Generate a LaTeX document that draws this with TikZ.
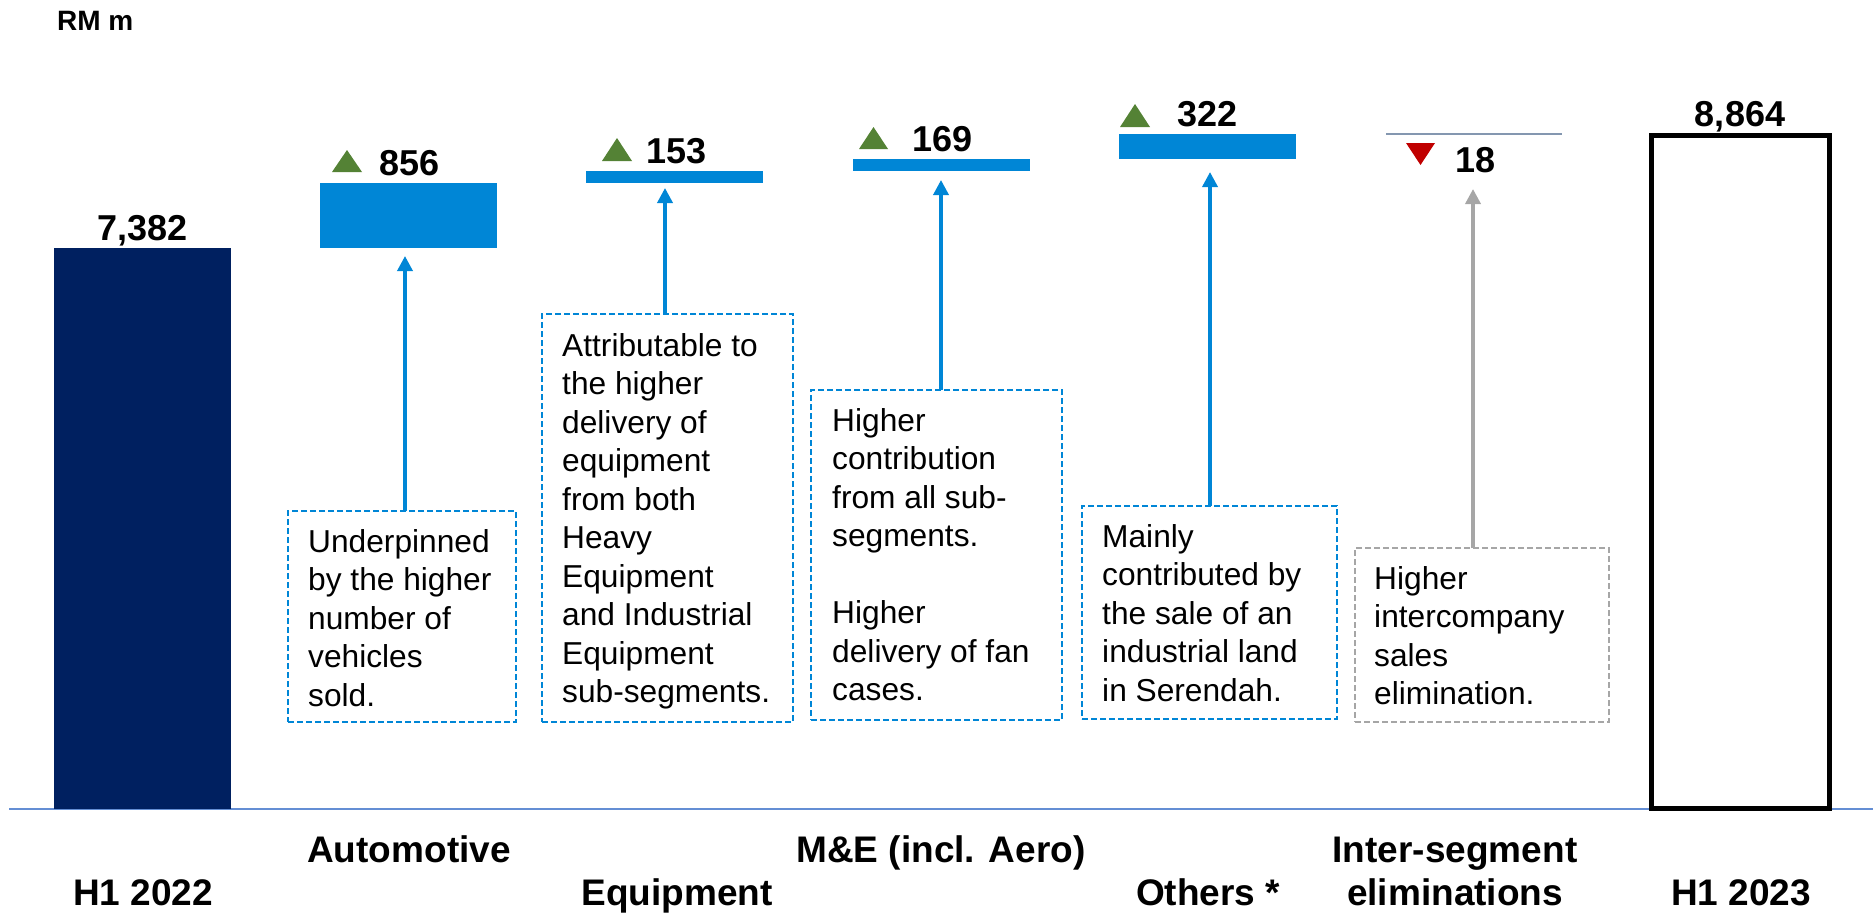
\documentclass[tikz,border=0pt]{standalone}
\usepackage{fontspec}
\setmainfont{Liberation Sans}
\usetikzlibrary{arrows.meta}
\definecolor{navy}{RGB}{0,32,96}
\definecolor{barblue}{RGB}{0,134,214}
\definecolor{upgreen}{RGB}{84,130,53}
\definecolor{downred}{RGB}{192,0,0}
\definecolor{boxgray}{RGB}{166,166,166}
\definecolor{linegray}{RGB}{132,151,176}
\definecolor{axisblue}{RGB}{100,142,212}
\begin{document}
\begin{tikzpicture}[x=1pt,y=-1pt,
  bar/.style={inner sep=0pt, outer sep=0pt, anchor=north west, draw=none},
  numlab/.style={font=\fontsize{36}{40}\selectfont\bfseries, inner sep=0pt},
  catlab/.style={font=\fontsize{37}{43}\selectfont\bfseries, inner sep=0pt, anchor=base},
  notebox/.style={draw=barblue, dash pattern=on 6pt off 3pt, line width=1.8pt, inner sep=0pt, outer sep=0pt, anchor=north west},
  graybox/.style={notebox, draw=boxgray},
  notetext/.style={font=\fontsize{31.7}{38.5}\selectfont, inner sep=0pt, anchor=north west, align=left},
  uparrow/.style={draw=barblue, line width=3.5pt, -{Triangle[width=15pt,length=15pt]}},
  grayarrow/.style={uparrow, draw=boxgray}
]
\useasboundingbox (0,0) rectangle (1873,913);

% axis
\draw[axisblue, line width=2pt] (9,809) -- (1873,809);

% title
\node[font=\fontsize{28}{32}\selectfont\bfseries, inner sep=0pt, anchor=base west] (unit) at (57,30) {RM m};

% bars
\node[bar, fill=navy, minimum width=177, minimum height=561] (h22) at (54,248) {};
\node[bar, fill=barblue, minimum width=177, minimum height=65] (abar) at (320,183) {};
\node[bar, fill=barblue, minimum width=177, minimum height=11.6] (ebar) at (586,171.4) {};
\node[bar, fill=barblue, minimum width=177, minimum height=12.8] (mbar) at (853,158.6) {};
\node[bar, fill=barblue, minimum width=177, minimum height=24.5] (obar) at (1119,134.1) {};
\node[bar, fill=linegray, minimum width=176, minimum height=1.8] (ibar) at (1386,133.2) {};
\node[bar, draw=black, fill=white, line width=5pt, minimum width=178, minimum height=672.5] (h23) at (1651.5,135.5) {};

% value labels
\node[numlab, anchor=base] (v22) at (142.5,240) {7,382};
\node[numlab, anchor=base] (v23) at (1740,126) {8,864};
\node[numlab, anchor=base west] (va) at (379,175) {856};
\node[numlab, anchor=base west] (ve) at (646,163) {153};
\node[numlab, anchor=base west] (vm) at (912,151) {169};
\node[numlab, anchor=base west] (vo) at (1177,126) {322};
\node[numlab, anchor=base west] (vi) at (1455,172) {18};

% triangles
\fill[upgreen] (332,172) -- (362,172) -- (347,150) -- cycle;
\fill[upgreen] (602,161) -- (632,161) -- (617,138) -- cycle;
\fill[upgreen] (859,149) -- (888,149) -- (873.5,127) -- cycle;
\fill[upgreen] (1120,127) -- (1150,127) -- (1135,104) -- cycle;
\fill[downred] (1406,143) -- (1435,143) -- (1420.5,165) -- cycle;

% note boxes
\node[notebox, minimum width=228, minimum height=211] (abox) at (288,511) {};
\node[notetext] (atext) at (308,529.2) {Underpinned\\by the higher\\number of\\vehicles\\sold.};

\node[notebox, minimum width=251, minimum height=408] (ebox) at (542,314) {};
\node[notetext] (etext) at (562,333.2) {Attributable to\\the higher\\delivery of\\equipment\\from both\\Heavy\\Equipment\\and Industrial\\Equipment\\sub-segments.};

\node[notebox, minimum width=251, minimum height=330] (mbox) at (811,390) {};
\node[notetext] (mtext) at (832,408.2) {Higher\\contribution\\from all sub-\\segments.\\[38.5pt]Higher\\delivery of fan\\cases.};

\node[notebox, minimum width=255, minimum height=213] (obox) at (1082,506) {};
\node[notetext] (otext) at (1102,524.2) {Mainly\\contributed by\\the sale of an\\industrial land\\in Serendah.};

\node[graybox, minimum width=254, minimum height=174] (ibox) at (1355,548) {};
\node[notetext] (itext) at (1374,566.2) {Higher\\intercompany\\sales\\elimination.};

% arrows
\coordinate (atip) at (405,256);
\coordinate (etip) at (665,188);
\coordinate (mtip) at (941,180);
\coordinate (otip) at (1210,172);
\coordinate (itip) at (1473,189);
\draw[uparrow] (atip |- abox.north) -- (atip);
\draw[uparrow] (etip |- ebox.north) -- (etip);
\draw[uparrow] (mtip |- mbox.north) -- (mtip);
\draw[uparrow] (otip |- obox.north) -- (otip);
\draw[grayarrow] (itip |- ibox.north) -- (itip);

% category labels
\node[catlab] (c22) at (143,905) {H1 2022};
\node[catlab] (ca) at (409,862) {Automotive};
\node[catlab] (ce) at (677,905) {Equipment};
\node[catlab] (cm) at (941,862) {M\&E (incl. Aero)};
\node[catlab] (co) at (1208,905) {Others *};
\node[catlab] (ci1) at (1455,862) {Inter-segment};
\node[catlab] (ci2) at (1455,905) {eliminations};
\node[catlab] (c23) at (1741,905) {H1 2023};
\end{tikzpicture}
\end{document}
